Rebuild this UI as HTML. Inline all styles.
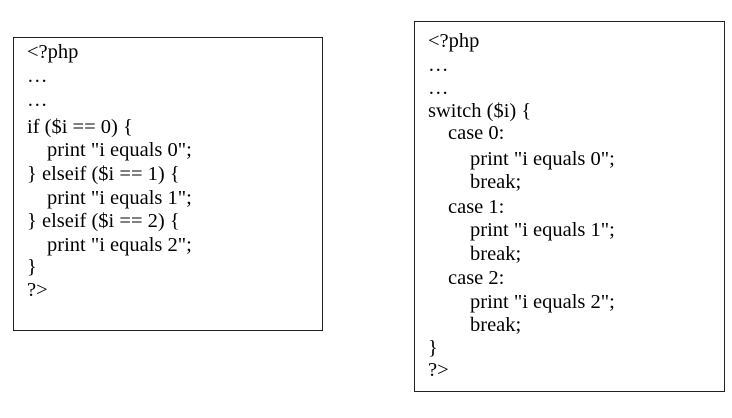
<!DOCTYPE html>
<html><head><style>
body{margin:0;width:732px;height:418px;background:#fff;position:relative;overflow:hidden;font-family:"Liberation Serif",serif;font-size:20.5px;color:#000}
.box{position:absolute;border:1.5px solid #222;box-sizing:border-box}
.l{position:absolute;white-space:pre;line-height:20px}
</style></head><body>
<div class="box" style="left:13px;top:37px;width:310px;height:294px"></div>
<div class="box" style="left:414px;top:21px;width:311px;height:371px"></div>
<div class="l" style="left:27px;top:42px">&lt;?php</div>
<div class="l" style="left:27px;top:66px">…</div>
<div class="l" style="left:27px;top:90px">…</div>
<div class="l" style="left:27px;top:117px">if ($i == 0) {</div>
<div class="l" style="left:47px;top:140px">print "i equals 0";</div>
<div class="l" style="left:27px;top:164px">} elseif ($i == 1) {</div>
<div class="l" style="left:47px;top:188px">print "i equals 1";</div>
<div class="l" style="left:27px;top:211px">} elseif ($i == 2) {</div>
<div class="l" style="left:47px;top:235px">print "i equals 2";</div>
<div class="l" style="left:27px;top:257px">}</div>
<div class="l" style="left:27px;top:280px">?&gt;</div>

<div class="l" style="left:428px;top:31px">&lt;?php</div>
<div class="l" style="left:428px;top:55px">…</div>
<div class="l" style="left:428px;top:78px">…</div>
<div class="l" style="left:428px;top:101px">switch ($i) {</div>
<div class="l" style="left:448px;top:123px">case 0:</div>
<div class="l" style="left:470px;top:149px">print "i equals 0";</div>
<div class="l" style="left:470px;top:172px">break;</div>
<div class="l" style="left:448px;top:197px">case 1:</div>
<div class="l" style="left:470px;top:220px">print "i equals 1";</div>
<div class="l" style="left:470px;top:244px">break;</div>
<div class="l" style="left:448px;top:268px">case 2:</div>
<div class="l" style="left:470px;top:292px">print "i equals 2";</div>
<div class="l" style="left:470px;top:315px">break;</div>
<div class="l" style="left:428px;top:338px">}</div>
<div class="l" style="left:428px;top:360px">?&gt;</div>
</body></html>
